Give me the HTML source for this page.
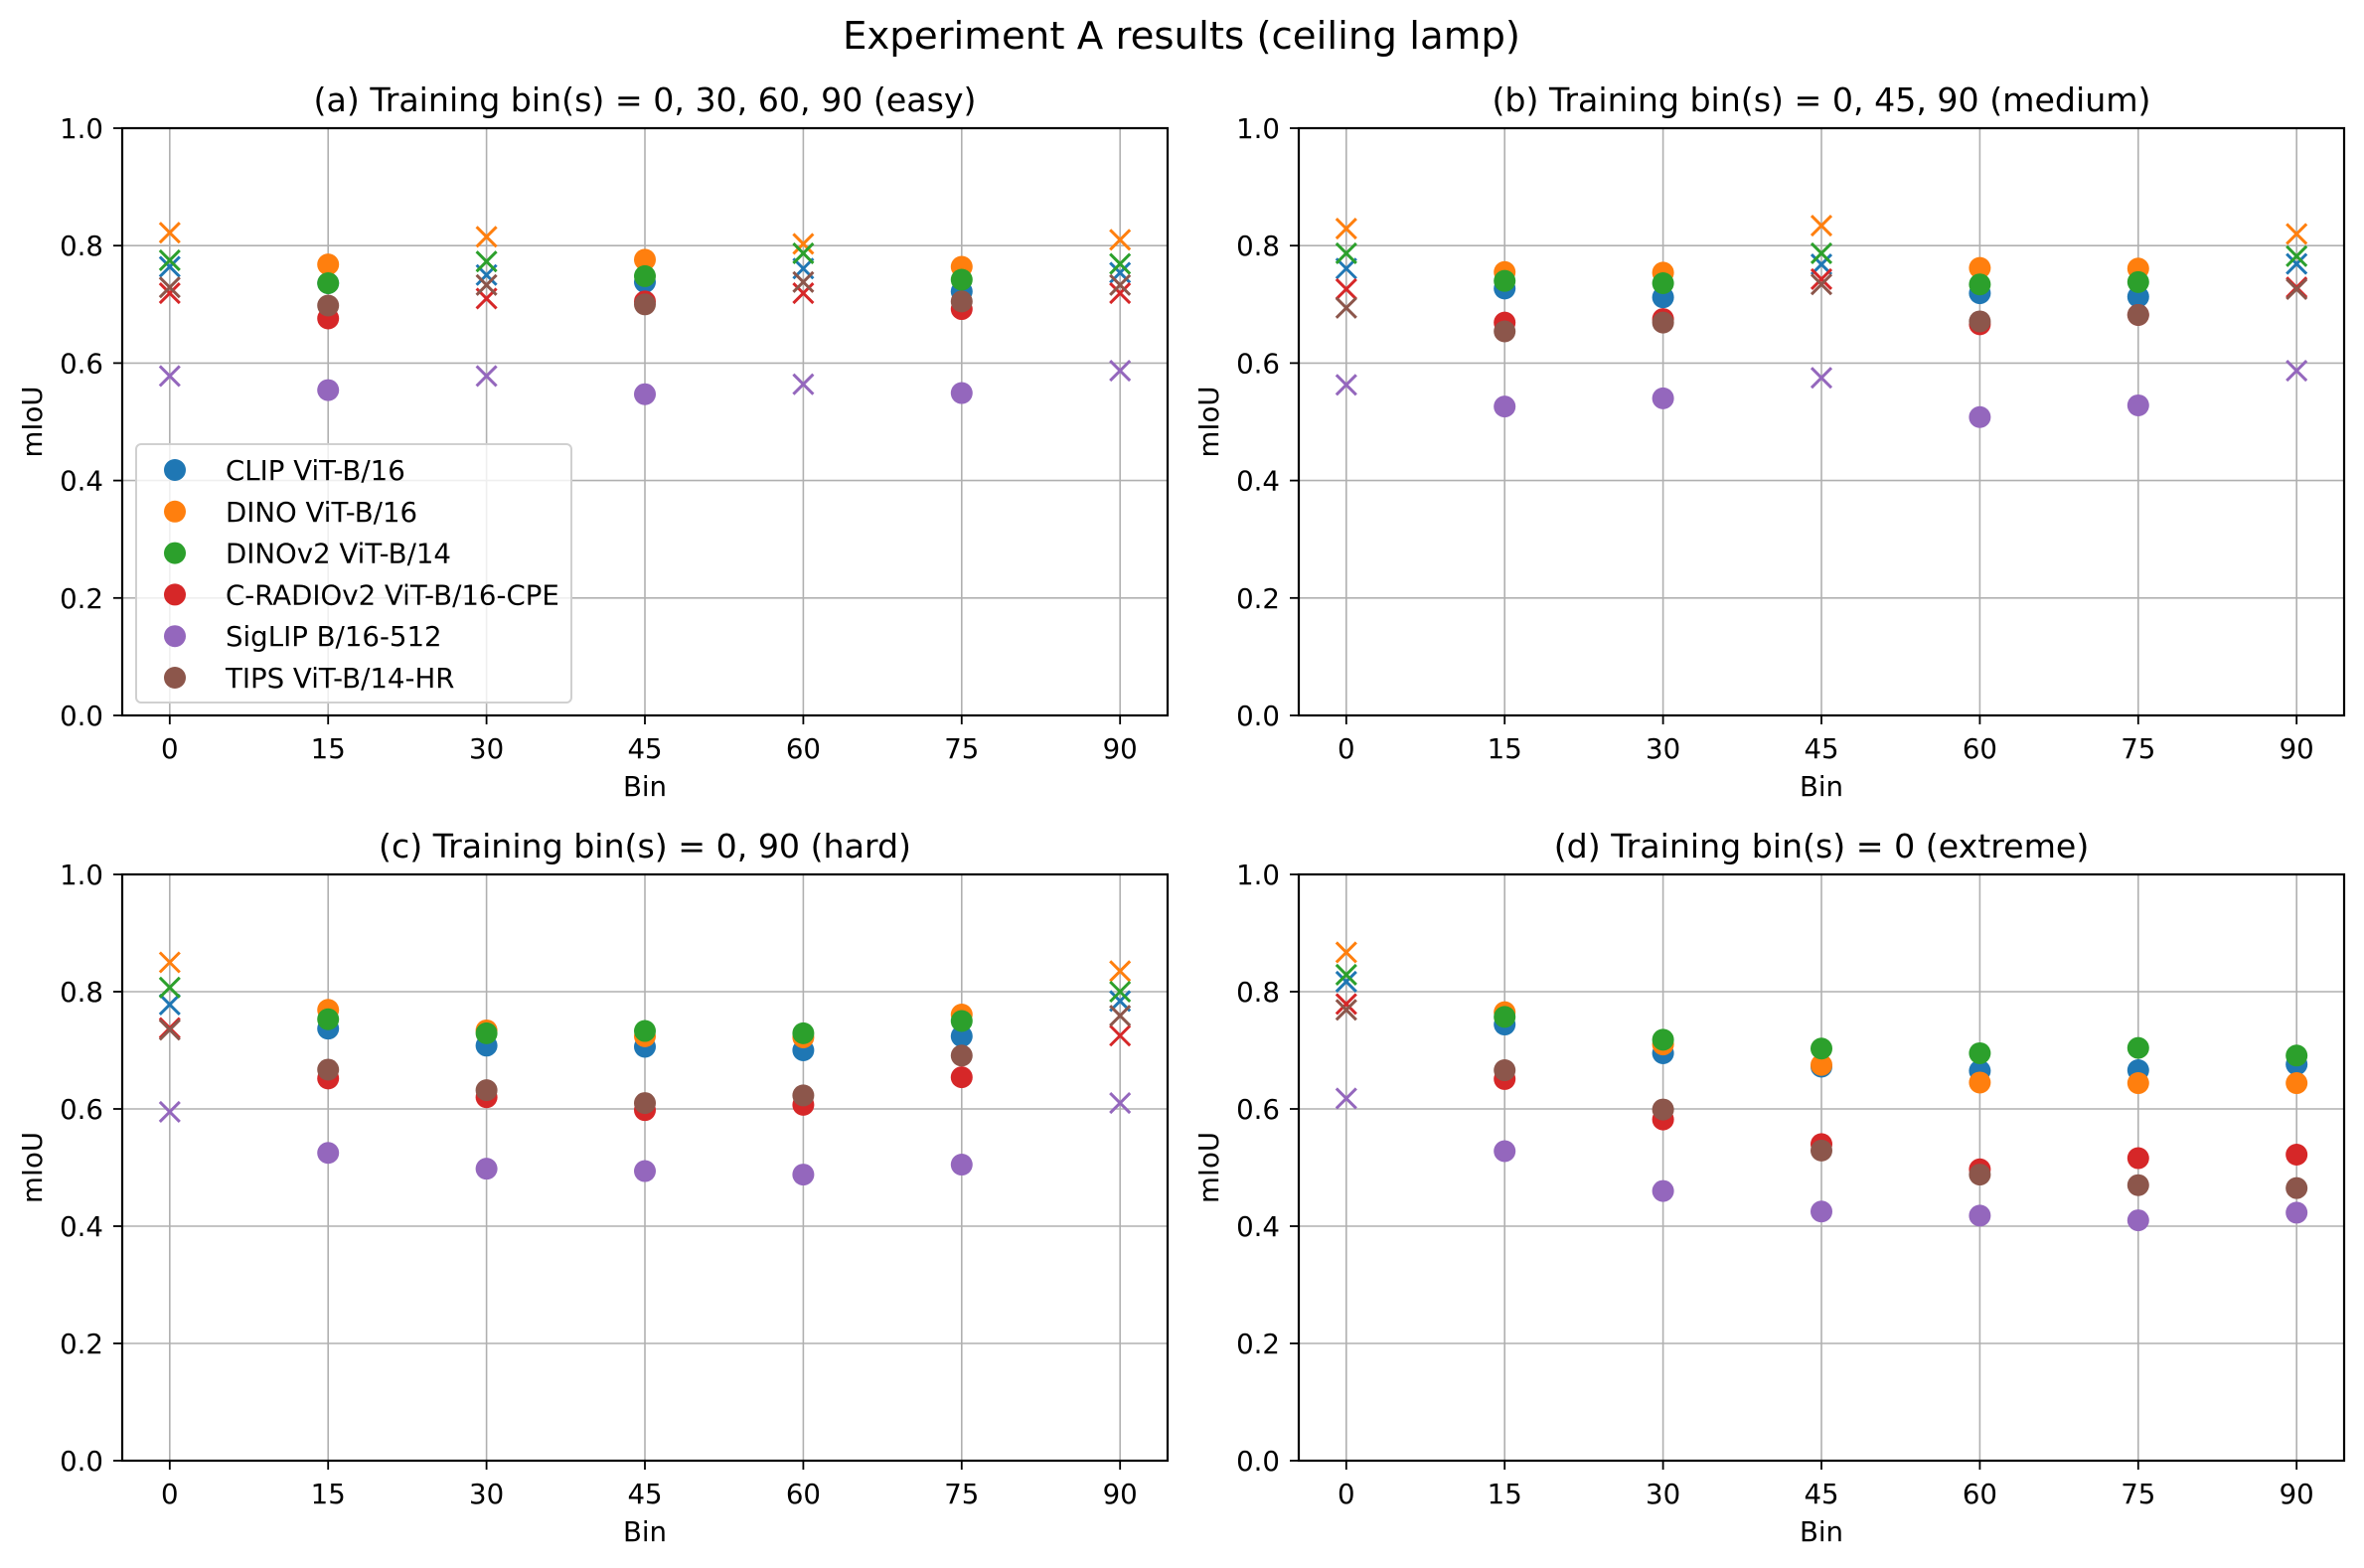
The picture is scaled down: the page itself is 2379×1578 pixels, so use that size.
<!DOCTYPE html>
<html><head><meta charset="utf-8"><style>
html,body{margin:0;padding:0;background:#fff;}
svg{display:block;font-family:"DejaVu Sans","Liberation Sans",sans-serif;}
</style></head><body>
<svg id="fig" width="2379" height="1578" viewBox="0 0 2379 1578" xmlns="http://www.w3.org/2000/svg">
<rect width="2379" height="1578" fill="#fff"/>
<text x="1189" y="49" font-size="38.7" text-anchor="middle">Experiment A results (ceiling lamp)</text>
</svg>
<script>
const bins = [0, 15, 30, 45, 60, 75, 90];
const models = ["CLIP ViT-B/16","DINO ViT-B/16","DINOv2 ViT-B/14","C-RADIOv2 ViT-B/16-CPE","SigLIP B/16-512","TIPS ViT-B/14-HR"];
const colors = ["#1f77b4","#ff7f0e","#2ca02c","#d62728","#9467bd","#8c564b"];
const yTicks = [0.0, 0.2, 0.4, 0.6, 0.8, 1.0];
const yTickLabels = ["0.0","0.2","0.4","0.6","0.8","1.0"];
const panelTitles = ["(a) Training bin(s) = 0, 30, 60, 90 (easy)","(b) Training bin(s) = 0, 45, 90 (medium)","(c) Training bin(s) = 0, 90 (hard)","(d) Training bin(s) = 0 (extreme)"];
const trainBins = [[0,30,60,90],[0,45,90],[0,90],[0]];
const panelA = [
 [0.764,0.736,0.750,0.738,0.761,0.722,0.754],
 [0.822,0.768,0.815,0.776,0.803,0.764,0.810],
 [0.775,0.736,0.773,0.748,0.787,0.742,0.769],
 [0.719,0.676,0.710,0.705,0.719,0.692,0.719],
 [0.578,0.554,0.578,0.547,0.564,0.549,0.587],
 [0.729,0.698,0.733,0.700,0.738,0.705,0.733]];
const panelB = [
 [0.761,0.727,0.712,0.768,0.719,0.713,0.769],
 [0.829,0.755,0.754,0.834,0.762,0.761,0.820],
 [0.787,0.740,0.736,0.787,0.734,0.738,0.782],
 [0.726,0.669,0.675,0.743,0.666,0.682,0.729],
 [0.563,0.526,0.540,0.575,0.508,0.528,0.587],
 [0.694,0.654,0.669,0.734,0.671,0.682,0.726]];
const panelC = [
 [0.778,0.737,0.708,0.706,0.700,0.724,0.784],
 [0.850,0.769,0.734,0.724,0.722,0.761,0.835],
 [0.807,0.753,0.729,0.733,0.729,0.750,0.800],
 [0.738,0.652,0.620,0.598,0.607,0.654,0.725],
 [0.595,0.525,0.498,0.494,0.488,0.505,0.610],
 [0.735,0.667,0.632,0.610,0.623,0.691,0.759]];
const panelD = [
 [0.817,0.744,0.695,0.672,0.665,0.666,0.676],
 [0.867,0.765,0.710,0.675,0.645,0.644,0.644],
 [0.829,0.757,0.718,0.703,0.695,0.704,0.691],
 [0.779,0.651,0.582,0.540,0.497,0.516,0.522],
 [0.618,0.528,0.460,0.425,0.418,0.410,0.423],
 [0.769,0.666,0.599,0.529,0.488,0.470,0.465]];
const panels = [panelA, panelB, panelC, panelD];

const NS = "http://www.w3.org/2000/svg";
const svg = document.getElementById("fig");
function mk(tag, attrs, parent){ const e=document.createElementNS(NS,tag); for(const k in attrs) e.setAttribute(k,attrs[k]); (parent||svg).appendChild(e); return e; }

const boxes = [
 {l:123,r:1175,t:129,b:720},
 {l:1307,r:2359,t:129,b:720},
 {l:123,r:1175,t:880,b:1470},
 {l:1307,r:2359,t:880,b:1470}];
const xmin=-4.5, xmax=94.5;
const FS = 27.6;

panels.forEach((data, p) => {
  const B = boxes[p];
  const xs = v => B.l + (v - xmin) / (xmax - xmin) * (B.r - B.l);
  const ys = v => B.b - v * (B.b - B.t);
  const g = mk("g", {});
  
  
  bins.forEach(b => {
    const l = mk("line", {x1:xs(b),x2:xs(b),y1:B.t,y2:B.b,stroke:"#b0b0b0","stroke-width":1.6}, g);
    
    
  });
  yTicks.forEach(v => {
    const l = mk("line", {x1:B.l,x2:B.r,y1:ys(v),y2:ys(v),stroke:"#b0b0b0","stroke-width":1.6}, g);
    
    
  });
  data.forEach((vals, s) => {
    vals.forEach((v, i) => {
      const cx = xs(bins[i]), cy = ys(v);
      if (trainBins[p].includes(bins[i])) {
        const d = 10;
        const m = mk("path", {d:`M${cx-d},${cy-d}L${cx+d},${cy+d}M${cx-d},${cy+d}L${cx+d},${cy-d}`, stroke:colors[s], "stroke-width":3, fill:"none"}, g);
        
        
      } else {
        const c = mk("circle", {cx:cx, cy:cy, r:11, fill:colors[s]}, g);
        
        
      }
    });
  });
  const fr = mk("rect", {x:B.l,y:B.t,width:B.r-B.l,height:B.b-B.t,fill:"none",stroke:"#000","stroke-width":2.2}, g);
  
  
  bins.forEach(b => {
    mk("line", {x1:xs(b),x2:xs(b),y1:B.b,y2:B.b+9,stroke:"#000","stroke-width":1.8}, g);
    const t = mk("text", {x:xs(b), y:B.b+43, "font-size":FS, "text-anchor":"middle"}, g);
    t.textContent = b;
    
    
  });
  yTicks.forEach((v, i) => {
    mk("line", {x1:B.l-9,x2:B.l,y1:ys(v),y2:ys(v),stroke:"#000","stroke-width":1.8}, g);
    const t = mk("text", {x:B.l-19, y:ys(v)+10, "font-size":FS, "text-anchor":"end"}, g);
    t.textContent = yTickLabels[i];
    
    
  });
  const xl = mk("text", {x:(B.l+B.r)/2, y:B.b+81, "font-size":FS, "text-anchor":"middle"}, g);
  xl.textContent = "Bin";
  
  
  const yl = mk("text", {x:0, y:0, "font-size":FS, "text-anchor":"middle", transform:`translate(${B.l-81},${(B.t+B.b)/2}) rotate(-90)`}, g);
  yl.textContent = "mIoU";
  
  
  const tt = mk("text", {x:(B.l+B.r)/2, y:B.t-17, "font-size":33.2, "text-anchor":"middle"}, g);
  tt.textContent = panelTitles[p];
  
  
});

const lg = mk("g", {});


mk("rect", {x:137,y:447,width:438,height:260,rx:5,fill:"#fff","fill-opacity":0.8,stroke:"#d0d0d0","stroke-width":2}, lg);
models.forEach((m, i) => {
  const y = 473 + i * 41.8;
  const c = mk("circle", {cx:176, cy:y, r:11, fill:colors[i]}, lg);
  
  
  const t = mk("text", {x:227, y:y+10, "font-size":FS}, lg);
  t.textContent = m;
  
  
});
</script>
</body></html>
